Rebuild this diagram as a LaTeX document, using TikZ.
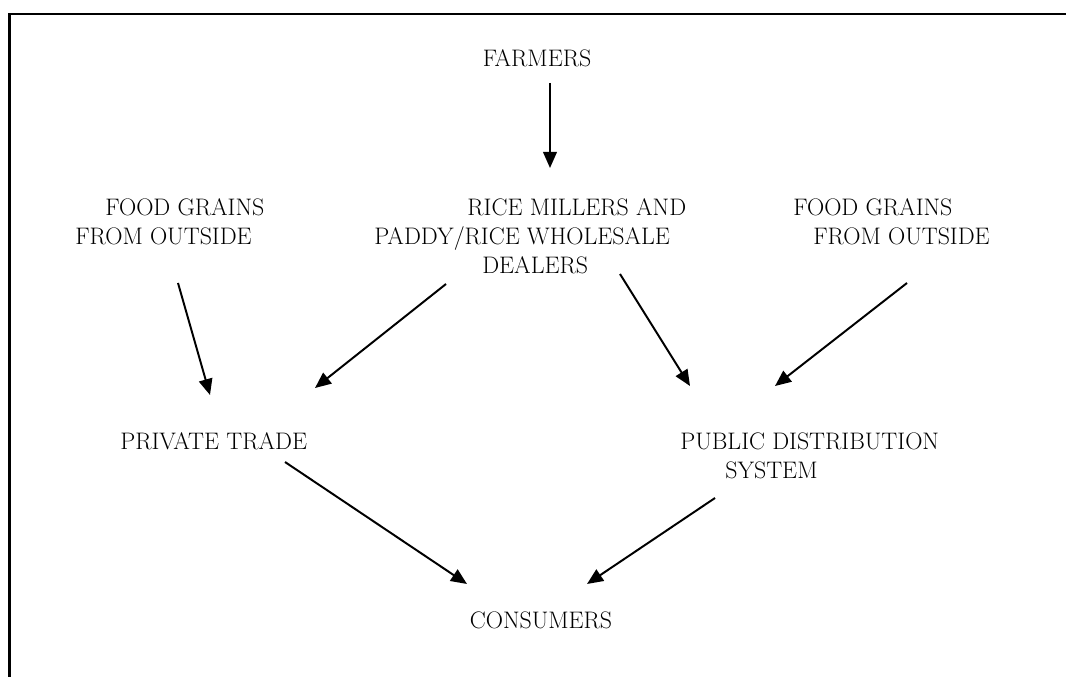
\documentclass[tikz,border=0pt]{standalone}
\usetikzlibrary{arrows.meta,positioning}

\begin{document}
\begin{tikzpicture}[
        label/.style={
                inner sep=0pt,
                align=left,
                font=\fontsize{17}{20.6}\selectfont
            },
        flow/.style={
                line width=1.4pt,
                -{Triangle[length=0.4cm,width=0.34cm]}
            },
        frame/.style={line width=1.7pt}
    ]

    \useasboundingbox (0,0) rectangle (26.65,-16.925);

    % Rahmen (nur oben und links)
    \draw[frame] (0.24,-16.925) -- (0.24,-0.35) -- (26.65,-0.35);

    % Knoten
    \node[label] (farmers) at (13.425,-1.45) {FARMERS};
    \node[label, anchor=north west] (foodL) at (1.875,-4.95)
        {\hspace*{0.75cm}FOOD GRAINS\\FROM OUTSIDE};
    \node[label, anchor=north west] (millers) at (9.35,-4.95)
        {\hspace*{2.33cm}RICE MILLERS AND\\PADDY/RICE WHOLESALE\\\hspace*{2.7cm}DEALERS};
    \node[label, anchor=north west] (foodR) at (19.825,-4.95)
        {FOOD GRAINS\\\hspace*{0.5cm}FROM OUTSIDE};
    \node[label, anchor=west] (private) at (3.0,-11.025) {PRIVATE TRADE};
    \node[label, anchor=north west] (public) at (17.0,-10.825)
        {PUBLIC DISTRIBUTION\\\hspace*{1.125cm}SYSTEM};
    \node[label] (consumers) at (13.525,-15.5) {CONSUMERS};

    % Pfeilenden
    \coordinate (farmers-out) at (13.75,-2.075);
    \coordinate (millers-in) at (13.75,-4.2);
    \coordinate (foodL-out) at (4.45,-7.075);
    \coordinate (millers-outL) at (11.15,-7.1);
    \coordinate (millers-outR) at (15.5,-6.85);
    \coordinate (foodR-out) at (22.675,-7.075);
    \coordinate (private-inL) at (5.25,-9.875);
    \coordinate (private-inR) at (7.875,-9.7);
    \coordinate (public-inL) at (17.25,-9.65);
    \coordinate (public-inR) at (19.375,-9.65);
    \coordinate (private-out) at (7.125,-11.55);
    \coordinate (public-out) at (17.875,-12.45);
    \coordinate (consumers-inL) at (11.675,-14.6);
    \coordinate (consumers-inR) at (14.675,-14.6);

    % Pfeile
    \draw[flow] (farmers-out) -- (millers-in);
    \draw[flow] (foodL-out) -- (private-inL);
    \draw[flow] (millers-outL) -- (private-inR);
    \draw[flow] (millers-outR) -- (public-inL);
    \draw[flow] (foodR-out) -- (public-inR);
    \draw[flow] (private-out) -- (consumers-inL);
    \draw[flow] (public-out) -- (consumers-inR);

\end{tikzpicture}
\end{document}
